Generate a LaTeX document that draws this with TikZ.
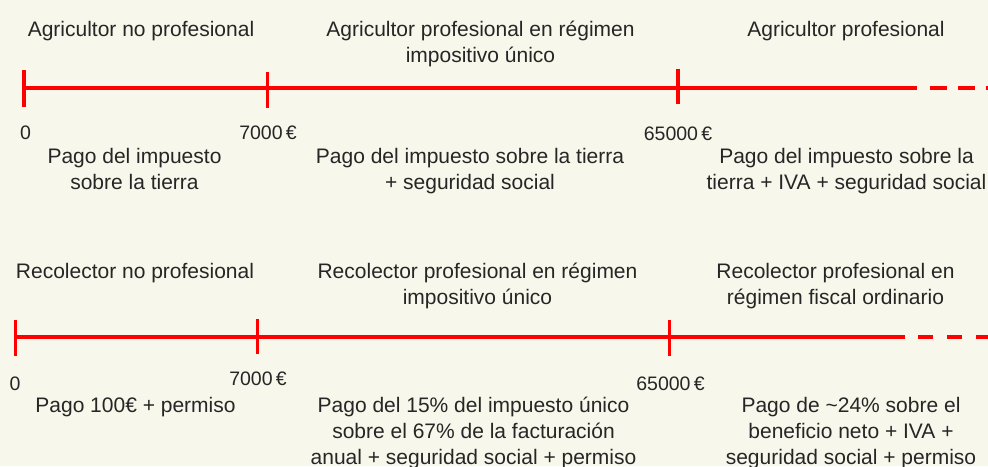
\documentclass[tikz,border=0pt]{standalone}
\usepackage{fontspec}
\setmainfont{Liberation Sans}
\definecolor{bgc}{HTML}{F8F7EB}
\definecolor{txt}{HTML}{262626}
\definecolor{lred}{HTML}{FF0000}
\tikzset{
  tline/.style={draw=lred, line width=4pt},
  dline/.style={draw=lred, line width=4pt, dash pattern=on 17pt off 11pt},
  tick/.style={draw=lred, line width=3.5pt},
  lbl/.style={text=txt, inner sep=0pt, anchor=north, align=center, font={\fontsize{21}{26}\selectfont}},
  num/.style={text=txt, inner sep=0pt, anchor=base, font={\fontsize{19.5}{22}\selectfont}}
}
\newcommand{\fs}{\rule{0pt}{22pt}}
\begin{document}
\begin{tikzpicture}[x=1pt,y=-1pt]
\useasboundingbox[fill=bgc] (0,0) rectangle (988,466);

% ---- top timeline ----
\coordinate (a0) at (24,87.5);
\coordinate (a1) at (267.5,87.5);
\coordinate (a2) at (678,87.5);
\coordinate (a3) at (917,87.5);
\coordinate (a4) at (930,87.5);
\coordinate (a5) at (992,87.5);
\draw[tline] (a0) -- (a3);
\draw[dline] (a4) -- (a5);
\coordinate (a0t) at (24,70); \coordinate (a0b) at (24,106.5);
\coordinate (a1t) at (267.5,71.5); \coordinate (a1b) at (267.5,107.5);
\coordinate (a2t) at (678,68.5); \coordinate (a2b) at (678,104);
\draw[tick] (a0t) -- (a0b);
\draw[tick] (a1t) -- (a1b);
\draw[tick] (a2t) -- (a2b);

\node[num] (n0) at (25.5,139) {0};
\node[num] (n1) at (268,139) {7000\,€};
\node[num] (n2) at (678,140) {65000\,€};

\node[lbl] (t1) at (141,14) {\fs Agricultor no profesional};
\node[lbl] (t2) at (480.5,14) {\fs Agricultor profesional en régimen\\impositivo único};
\node[lbl] (t3) at (846,14) {\fs Agricultor profesional};

\node[lbl] (p1) at (134.5,141) {\fs Pago del impuesto\\sobre la tierra};
\node[lbl] (p2) at (470,141) {\fs Pago del impuesto sobre la tierra\\+ seguridad social};
\node[lbl] (p3) at (846.5,141) {\fs Pago del impuesto sobre la\\tierra + IVA + seguridad social};

% ---- bottom timeline ----
\coordinate (b0) at (15.5,337);
\coordinate (b1) at (257.5,337);
\coordinate (b2) at (669.5,337);
\coordinate (b3) at (905,337);
\coordinate (b4) at (918,337);
\coordinate (b5) at (992,337);
\draw[tline] (b0) -- (b3);
\draw[dline, dash pattern=on 15pt off 14pt] (b4) -- (b5);
\coordinate (b0t) at (15.5,320); \coordinate (b0b) at (15.5,356);
\coordinate (b1t) at (257.5,319); \coordinate (b1b) at (257.5,354);
\coordinate (b2t) at (669.5,320); \coordinate (b2b) at (669.5,356);
\draw[tick] (b0t) -- (b0b);
\draw[tick] (b1t) -- (b1b);
\draw[tick] (b2t) -- (b2b);

\node[num] (m0) at (15,390) {0};
\node[num] (m1) at (258,385) {7000\,€};
\node[num] (m2) at (670.5,390.5) {65000\,€};

\node[lbl] (r1) at (135,256) {\fs Recolector no profesional};
\node[lbl] (r2) at (477.5,256) {\fs Recolector profesional en régimen\\impositivo único};
\node[lbl] (r3) at (835.5,256) {\fs Recolector profesional en\\régimen fiscal ordinario};

\node[lbl] (q1) at (135.5,390) {\fs Pago 100€ + permiso};
\node[lbl] (q2) at (473.5,390) {\fs Pago del 15\% del impuesto único\\sobre el 67\% de la facturación\\anual + seguridad social + permiso};
\node[lbl] (q3) at (851,390) {\fs Pago de \textasciitilde24\% sobre el\\beneficio neto + IVA +\\seguridad social + permiso};
\end{tikzpicture}
\end{document}
